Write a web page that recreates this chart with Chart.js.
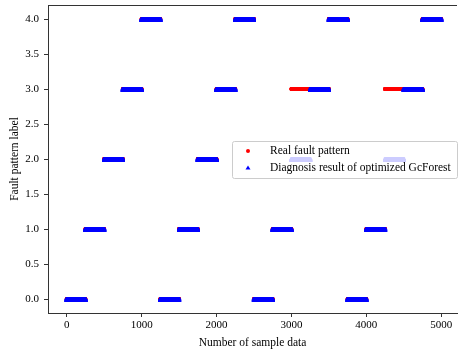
<!DOCTYPE html>
<html>
<head>
<meta charset="utf-8">
<script src="https://cdn.jsdelivr.net/npm/chart.js@4.4.1/dist/chart.umd.min.js"></script>
<style>
  html, body { margin: 0; padding: 0; background: #fff; }
  #wrap { width: 461px; height: 354px; }
</style>
</head>
<body>
<div id="wrap"><canvas id="chart" width="461" height="354"></canvas></div>
<script>
// each block holds 250 consecutive samples with one label
const blockStart = [0, 250, 500, 750, 1000, 1250, 1500, 1750, 2000, 2250,
                    2500, 2750, 3000, 3250, 3500, 3750, 4000, 4250, 4500, 4750];
const blockLength = 250;
const realFault = [0, 1, 2, 3, 4, 0, 1, 2, 3, 4, 0, 1, 3, 3, 4, 0, 1, 3, 3, 4];
const diagnosis = [0, 1, 2, 3, 4, 0, 1, 2, 3, 4, 0, 1, 2, 3, 4, 0, 1, 2, 3, 4];
const xTicks = [0, 1000, 2000, 3000, 4000, 5000];
const yTicks = [0, 0.5, 1, 1.5, 2, 2.5, 3, 3.5, 4];

function toPoints(labels) {
  const pts = [];
  blockStart.forEach((start, i) => {
    for (let s = start; s < start + blockLength; s++) {
      pts.push({ x: s, y: labels[i] });
    }
  });
  return pts;
}

const serif = 'Liberation Serif';

// box-centred triangle marker (like matplotlib '^')
function triangleMarker(w, h, color) {
  const c = document.createElement('canvas');
  c.width = w;
  c.height = h;
  const g = c.getContext('2d');
  g.fillStyle = color;
  g.beginPath();
  g.moveTo(w / 2, 0);
  g.lineTo(w, h - 0.4);
  g.lineTo(0, h - 0.4);
  g.closePath();
  g.fill();
  return c;
}
const blueTriangle = triangleMarker(5, 5, '#0000ff');

// legend drawn inside the plot, on top of the points
const innerLegend = {
  id: 'innerLegend',
  afterDatasetsDraw(chart) {
    const ctx = chart.ctx;
    const x0 = 232, y0 = 141, w = 225, h = 37;
    ctx.save();
    ctx.beginPath();
    ctx.roundRect(x0 + 0.5, y0 + 0.5, w, h, 2);
    ctx.fillStyle = 'rgba(255,255,255,0.8)';
    ctx.fill();
    ctx.strokeStyle = '#cccccc';
    ctx.lineWidth = 1;
    ctx.stroke();

    // red circle
    ctx.fillStyle = '#ff0000';
    ctx.beginPath();
    ctx.arc(248, 151, 2, 0, Math.PI * 2);
    ctx.fill();
    // blue triangle
    ctx.fillStyle = '#0000ff';
    ctx.beginPath();
    ctx.moveTo(248, 165.5);
    ctx.lineTo(250.5, 169.5);
    ctx.lineTo(245.5, 169.5);
    ctx.closePath();
    ctx.fill();

    ctx.fillStyle = '#000';
    ctx.font = '11.5px "' + serif + '"';
    ctx.textBaseline = 'middle';
    ctx.fillText(chart.data.datasets[0].label, 270, 151);
    ctx.fillText(chart.data.datasets[1].label, 270, 167.5);
    ctx.restore();
  }
};

// top spine
const topSpine = {
  id: 'topSpine',
  afterDraw(chart) {
    const a = chart.chartArea;
    const ctx = chart.ctx;
    ctx.save();
    ctx.strokeStyle = '#333';
    ctx.lineWidth = 1;
    ctx.beginPath();
    ctx.moveTo(a.left, a.top + 0.5);
    ctx.lineTo(a.right, a.top + 0.5);
    ctx.stroke();
    ctx.restore();
  }
};

new Chart(document.getElementById('chart'), {
  type: 'scatter',
  data: {
    datasets: [
      {
        label: 'Real fault pattern',
        data: toPoints(realFault),
        pointStyle: 'circle',
        pointRadius: 2.1,
        backgroundColor: '#ff0000',
        borderWidth: 0,
        order: 1
      },
      {
        label: 'Diagnosis result of optimized GcForest',
        data: toPoints(diagnosis),
        pointStyle: blueTriangle,
        pointRadius: 3,
        backgroundColor: '#0000ff',
        borderWidth: 0,
        order: 0
      }
    ]
  },
  options: {
    responsive: false,
    animation: false,
    layout: { padding: { top: 5, left: 0, right: 0, bottom: 0 } },
    plugins: {
      legend: { display: false },
      tooltip: { enabled: false }
    },
    scales: {
      x: {
        type: 'linear',
        min: -250,
        max: 5210,
        afterBuildTicks: (s) => { s.ticks = xTicks.map(v => ({ value: v })); },
        afterFit: (s) => { s.height = 41; s.paddingLeft = 0; s.paddingRight = 0; },
        grid: { drawOnChartArea: false, drawTicks: true, tickLength: 4, color: '#333' },
        border: { display: true, color: '#333' },
        ticks: {
          color: '#000',
          padding: 2,
          maxRotation: 0,
          font: { family: serif, size: 11 },
          callback: (v) => String(v)
        },
        title: {
          display: true,
          text: 'Number of sample data',
          color: '#000',
          padding: { top: 0, bottom: 4 },
          font: { family: serif, size: 11.5 }
        }
      },
      y: {
        type: 'linear',
        min: -0.2,
        max: 4.2,
        afterBuildTicks: (s) => { s.ticks = yTicks.map(v => ({ value: v })); },
        afterFit: (s) => { s.width = 48; s.paddingTop = 0; s.paddingBottom = 0; },
        grid: { drawOnChartArea: false, drawTicks: true, tickLength: 4, color: '#333' },
        border: { display: true, color: '#333' },
        ticks: {
          color: '#000',
          padding: 5,
          font: { family: serif, size: 11 },
          callback: (v) => Number(v).toFixed(1)
        },
        title: {
          display: true,
          text: 'Fault pattern label',
          color: '#000',
          padding: { top: 8, bottom: 0 },
          font: { family: serif, size: 11.5 }
        }
      }
    }
  },
  plugins: [innerLegend, topSpine]
});
</script>
</body>
</html>
